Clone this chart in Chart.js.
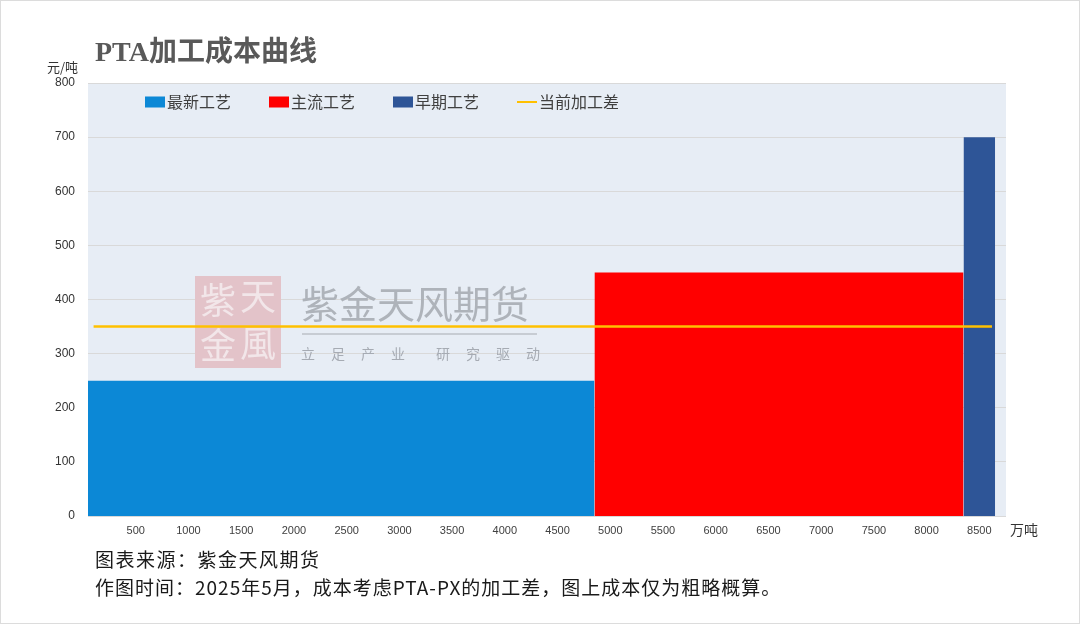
<!DOCTYPE html>
<html>
<head>
<meta charset="utf-8">
<script src="https://cdn.jsdelivr.net/npm/chart.js@4/dist/chart.umd.min.js"></script>
<style>
  html, body { margin: 0; padding: 0; background: #ffffff; }
  canvas { display: block; }
</style>
</head>
<body>
<canvas id="costCurve" width="1080" height="624"></canvas>
<script>
// capacity blocks (万吨) and processing cost (元/吨)
const processNames = ['最新工艺', '主流工艺', '早期工艺'];
const capStart = [0, 4850, 8350];
const capEnd = [4850, 8350, 8650];
const costs = [250, 450, 700];
const processColors = ['#0C88D6', '#FF0000', '#2E5597'];

// current processing margin
const marginName = '当前加工差';
const marginValue = 350;
const marginSpan = [100, 8620];

const xTicks = [500, 1000, 1500, 2000, 2500, 3000, 3500, 4000, 4500, 5000, 5500, 6000, 6500, 7000, 7500, 8000, 8500];

const CJK = '"Noto Sans CJK SC", "Noto Sans", sans-serif';

const datasets = processNames.map((name, i) => ({
  label: name,
  data: [{ x: capStart[i], y: costs[i] }, { x: capEnd[i], y: costs[i] }],
  backgroundColor: processColors[i],
  borderColor: processColors[i],
  borderWidth: 0,
  pointRadius: 0,
  fill: 'origin',
  order: 2
}));

datasets.push({
  label: marginName,
  data: [{ x: marginSpan[0], y: marginValue }, { x: marginSpan[1], y: marginValue }],
  borderColor: '#FFC000',
  backgroundColor: '#FFC000',
  borderWidth: 2.5,
  pointRadius: 0,
  fill: false,
  order: 1
});

// plot background + outer frame
const plotBg = {
  id: 'plotBg',
  beforeDraw(chart) {
    const { ctx, chartArea: a } = chart;
    ctx.save();
    ctx.fillStyle = '#E7EDF5';
    ctx.fillRect(a.left, a.top, a.right - a.left, a.bottom - a.top);
    ctx.strokeStyle = '#DCDCDC';
    ctx.lineWidth = 1;
    ctx.strokeRect(0.5, 0.5, chart.width - 1, chart.height - 1);
    ctx.restore();
  }
};

// faint company watermark behind the marks
const watermark = {
  id: 'watermark',
  beforeDatasetsDraw(chart) {
    const { ctx } = chart;
    ctx.save();
    ctx.fillStyle = '#E3C3C9';
    ctx.fillRect(195, 276, 86, 92);
    ctx.fillStyle = '#F2E6E9';
    ctx.font = '36px ' + CJK;
    ctx.textAlign = 'center';
    ctx.textBaseline = 'middle';
    ctx.fillText('紫', 218, 300);
    ctx.fillText('天', 258, 296);
    ctx.fillText('金', 218, 345);
    ctx.fillText('風', 258, 343);

    ctx.fillStyle = '#AEB3BA';
    ctx.font = '38px ' + CJK;
    ctx.textAlign = 'left';
    ctx.fillText('紫金天风期货', 301, 304);
    ctx.strokeStyle = '#BCC0C7';
    ctx.lineWidth = 1.5;
    ctx.beginPath();
    ctx.moveTo(302, 334);
    ctx.lineTo(537, 334);
    ctx.stroke();
    ctx.font = '14px ' + CJK;
    ctx.fillStyle = '#A6ABB3';
    const motto = '立足产业研究驱动';
    for (let i = 0; i < motto.length; i++) {
      ctx.fillText(motto[i], 301 + i * 30 + (i >= 4 ? 15 : 0), 354);
    }
    ctx.restore();
  }
};

// title, units, legend and notes
const decorations = {
  id: 'decorations',
  afterDraw(chart) {
    const { ctx } = chart;
    ctx.save();
    ctx.textBaseline = 'alphabetic';
    ctx.textAlign = 'left';
    ctx.fillStyle = '#595959';
    ctx.font = 'bold 28px "Liberation Serif", ' + CJK;
    ctx.fillText('PTA加工成本曲线', 95, 61);

    ctx.fillStyle = '#333333';
    ctx.font = '13px ' + CJK;
    ctx.textBaseline = 'middle';
    ctx.fillText('元/吨', 47, 67);
    ctx.font = '14px ' + CJK;
    ctx.fillText('万吨', 1010, 530);

    // legend
    let x = 145;
    const y = 102;
    ctx.font = '16px ' + CJK;
    chart.data.datasets.forEach((ds) => {
      if (ds.fill === false) {
        ctx.strokeStyle = ds.borderColor;
        ctx.lineWidth = 2;
        ctx.beginPath();
        ctx.moveTo(x, y);
        ctx.lineTo(x + 20, y);
        ctx.stroke();
      } else {
        ctx.fillStyle = ds.backgroundColor;
        ctx.fillRect(x, y - 5.5, 20, 11);
      }
      ctx.fillStyle = '#404040';
      ctx.fillText(ds.label, x + 22, y);
      x += 22 + ctx.measureText(ds.label).width + 38;
    });

    // notes
    ctx.textBaseline = 'alphabetic';
    ctx.fillStyle = '#1A1A1A';
    ctx.font = '19px ' + CJK;
    ctx.letterSpacing = '1.5px';
    ctx.fillText('图表来源：紫金天风期货', 95, 567);
    ctx.letterSpacing = '1px';
    ctx.fillText('作图时间：2025年5月，成本考虑PTA-PX的加工差，图上成本仅为粗略概算。', 95, 595);
    ctx.restore();
  }
};

new Chart(document.getElementById('costCurve'), {
  type: 'line',
  data: { datasets },
  options: {
    responsive: false,
    animation: false,
    devicePixelRatio: 1,
    layout: { padding: { top: 83, right: 74, bottom: 78, left: 0 } },
    plugins: {
      legend: { display: false },
      tooltip: { enabled: false }
    },
    scales: {
      x: {
        type: 'linear',
        min: 47,
        max: 8753,
        afterBuildTicks: (s) => { s.ticks = xTicks.map(v => ({ value: v })); },
        afterFit: (s) => { s.height = 30; },
        grid: { display: false, drawTicks: false },
        border: { display: false },
        ticks: {
          autoSkip: false,
          maxRotation: 0,
          padding: 8,
          color: '#404040',
          callback: (v) => String(v),
          font: { family: '"Liberation Sans", Arial, sans-serif', size: 11 }
        }
      },
      y: {
        min: 0,
        max: 800,
        afterFit: (s) => { s.width = 88; },
        grid: { color: '#D9D9D9', drawTicks: false },
        border: { display: false },
        ticks: {
          stepSize: 100,
          padding: 13,
          color: '#333333',
          font: { family: '"Liberation Sans", Arial, sans-serif', size: 12 }
        }
      }
    }
  },
  plugins: [plotBg, watermark, decorations]
});
</script>
</body>
</html>
